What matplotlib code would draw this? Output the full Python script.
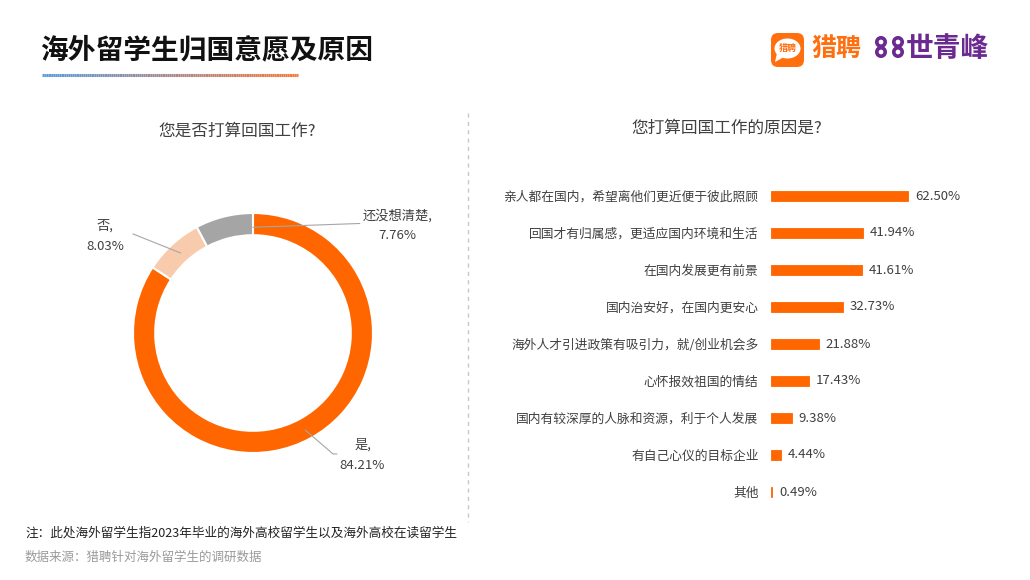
import matplotlib
matplotlib.use("Agg")
import matplotlib.pyplot as plt
import numpy as np
from matplotlib.collections import LineCollection
from matplotlib.patches import FancyBboxPatch, Ellipse, Polygon, Circle
from matplotlib.colors import to_rgb

plt.rcParams['font.family'] = ['Noto Sans CJK SC', 'DejaVu Sans']

# ---------------- data ----------------
title = "海外留学生归国意愿及原因"
pie_title = "您是否打算回国工作?"
pie_labels = ["是", "否", "还没想清楚"]
pie_values = [84.21, 8.03, 7.76]
bar_title = "您打算回国工作的原因是?"
bar_categories = [
    "亲人都在国内，希望离他们更近便于彼此照顾",
    "回国才有归属感，更适应国内环境和生活",
    "在国内发展更有前景",
    "国内治安好，在国内更安心",
    "海外人才引进政策有吸引力，就/创业机会多",
    "心怀报效祖国的情结",
    "国内有较深厚的人脉和资源，利于个人发展",
    "有自己心仪的目标企业",
    "其他",
]
bar_values = [62.50, 41.94, 41.61, 32.73, 21.88, 17.43, 9.38, 4.44, 0.49]
note = "注：此处海外留学生指2023年毕业的海外高校留学生以及海外高校在读留学生"
source = "数据来源：猎聘针对海外留学生的调研数据"

ORANGE = "#FF6600"
PIE_COLORS = [ORANGE, "#F8CBAD", "#A5A5A5"]
TXT = "#404040"

W, H = 1030, 580
fig = plt.figure(figsize=(W / 100, H / 100), dpi=100)
fig.patch.set_facecolor("white")

# decoration axes in pixel coordinates
deco = fig.add_axes([0, 0, 1, 1])
deco.set_xlim(0, W)
deco.set_ylim(H, 0)
deco.axis("off")
deco.patch.set_alpha(0)

# title
deco.text(40, 50, title, fontsize=20, fontweight="bold", color="#111111",
          ha="left", va="center")
# gradient underline
xs = np.linspace(42, 298, 120)
c0, c1 = np.array(to_rgb("#5B9BE0")), np.array(to_rgb("#F5793B"))
segs = [[(xs[i], 75), (xs[i + 1], 75)] for i in range(len(xs) - 1)]
cols = [c0 + (c1 - c0) * (i / (len(xs) - 2)) for i in range(len(xs) - 1)]
deco.add_collection(LineCollection(segs, colors=cols, linewidths=2.2))

# logo: orange icon
deco.add_patch(FancyBboxPatch((771, 33), 33, 34, boxstyle="round,pad=0,rounding_size=7",
                              fc="#FF6F0F", ec="none"))
deco.add_patch(Ellipse((787.5, 48.5), 26, 20, fc="white", ec="none"))
deco.add_patch(Polygon([(777, 53), (775, 62), (784, 57)], closed=True, fc="white", ec="none"))
deco.text(787.5, 48.5, "猎聘", fontsize=6.5, fontweight="bold", color="#FF6F0F",
          ha="center", va="center")
deco.text(811, 49, "猎聘", fontsize=18, fontweight="bold", color="#FF6F0F",
          ha="left", va="center")
PURPLE = "#6B2A8F"
for cx in (881, 898):
    for cy in (42, 52):
        deco.add_patch(Circle((cx, cy), 4.2, fc="none", ec=PURPLE, lw=2.6))
deco.text(906, 49, "世青峰", fontsize=20, fontweight="bold", color=PURPLE,
          ha="left", va="center")

# divider
deco.plot([468, 468], [113, 522], ls=(0, (3, 3)), color="#C8C8C8", lw=1)

# subtitles
deco.text(237, 131, pie_title, fontsize=12, color=TXT, ha="center", va="center")
deco.text(727, 128, bar_title, fontsize=12, color=TXT, ha="center", va="center")

# footnotes
deco.text(25, 533, note, fontsize=9.1, color="#222222", ha="left", va="center")
deco.text(25, 557, source, fontsize=9, color="#9A9A9A", ha="left", va="center")

# ---------------- donut ----------------
CX, CY, R, S = 253, 333, 126, 300
pax = fig.add_axes([(CX - S / 2) / W, 1 - (CY + S / 2) / H, S / W, S / H])
lim = (S / 2) / R
pax.set_xlim(-lim, lim)
pax.set_ylim(-lim, lim)
pax.set_aspect("equal")
pax.axis("off")
pax.pie(pie_values, colors=PIE_COLORS, startangle=90, counterclock=False, radius=1,
        wedgeprops=dict(width=0.185, edgecolor="white", linewidth=1.5))

def d(px, py):
    return ((px - CX) / R, (CY - py) / R)

lc = "#A6A6A6"
label_specs = [
    (0, [(308, 435), (337, 460), (341, 460)], (368, 461)),
    (1, [(177, 249), (127, 229)], (98, 231)),
    (2, [(253, 222), (365, 218)], (405, 220)),
]
for idx, pts, lab in label_specs:
    dp = [d(*p) for p in pts]
    pax.plot([p[0] for p in dp], [p[1] for p in dp], color=lc, lw=0.8, clip_on=False)
    lx, ly = d(*lab)
    pax.text(lx, ly, f"{pie_labels[idx]},\n{pie_values[idx]:.2f}%", fontsize=9.5,
             color=TXT, ha="center", va="center", linespacing=1.7, clip_on=False)

# ---------------- bars ----------------
X0, BW = 771, 200
PX_PER_PCT = 137 / 62.5
y_top, y_bot = 196 - 18.5, 492 + 18.5
bax = fig.add_axes([X0 / W, 1 - y_bot / H, BW / W, (y_bot - y_top) / H])
bax.patch.set_alpha(0)
ypos = np.arange(len(bar_categories))
bax.barh(ypos, bar_values, height=0.26, color=ORANGE, edgecolor=ORANGE, linewidth=0.6)
bax.set_xlim(0, BW / PX_PER_PCT)
bax.set_ylim(len(bar_categories) - 0.5, -0.5)
bax.set_yticks(ypos)
bax.set_yticklabels(bar_categories, fontsize=9.2, color=TXT)
bax.tick_params(axis="y", length=0, pad=9)
bax.set_xticks([])
for s in bax.spines.values():
    s.set_visible(False)
for y, v in zip(ypos, bar_values):
    bax.annotate(f"{v:.2f}%", (v, y), xytext=(5, 0), textcoords="offset points",
                 fontsize=9.5, color=TXT, ha="left", va="center")

fig.savefig("out.png", dpi=100, facecolor="white")
